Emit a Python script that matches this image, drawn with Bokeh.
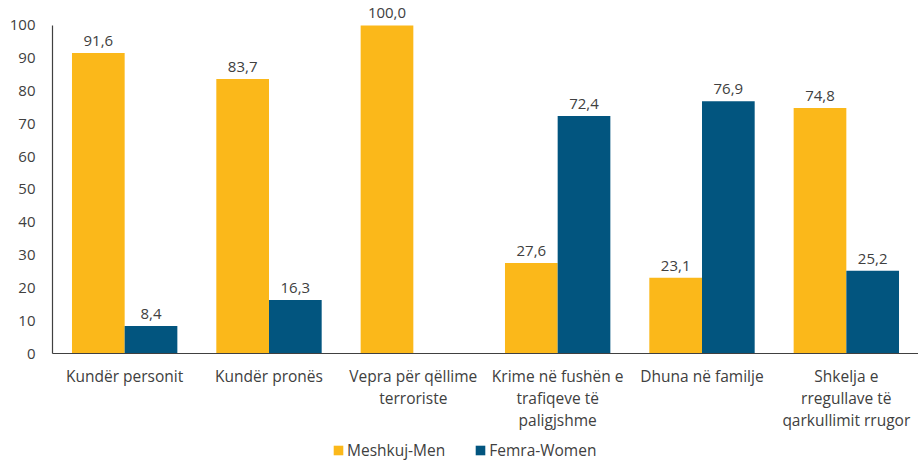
import numpy as np
from bokeh.plotting import figure
from bokeh.layouts import column
from bokeh.models import ColumnDataSource, Range1d, FixedTicker, Legend, LegendItem, LabelSet
from bokeh.core.properties import value
from bokeh.embed import file_html
from bokeh.resources import INLINE

categories = ["Kundër personit", "Kundër pronës", "Vepra për qëllime\nterroriste",
              "Krime në fushën e\ntrafiqeve të\npaligjshme", "Dhuna në familje",
              "Shkelja e\nrregullave të\nqarkullimit rrugor"]
men = [91.6, 83.7, 100.0, 27.6, 23.1, 74.8]
women = [8.4, 16.3, None, 72.4, 76.9, 25.2]
series_names = ["Meshkuj-Men", "Femra-Women"]
y_ticks = [0, 10, 20, 30, 40, 50, 60, 70, 80, 90, 100]

YELLOW = "#FBB81A"
BLUE = "#02557F"
TXT = "#404040"
FONT = "Open Sans"

xc = [i + 0.5 for i in range(len(categories))]
bw = 0.365

p = figure(width=918, height=440, output_backend="svg", toolbar_location=None,
           x_range=Range1d(0, 6), y_range=Range1d(0, 107.6),
           min_border_left=52, min_border_right=0, min_border_top=0, min_border_bottom=87)
p.outline_line_color = None
p.grid.grid_line_color = None

def fmt(v):
    return ("%.1f" % v).replace(".", ",")

src_m = ColumnDataSource(dict(x=[c - bw / 2 for c in xc], top=men, lab=[fmt(v) for v in men]))
wx = [c + bw / 2 for c, v in zip(xc, women) if v is not None]
wv = [v for v in women if v is not None]
src_w = ColumnDataSource(dict(x=wx, top=wv, lab=[fmt(v) for v in wv]))

r1 = p.vbar(x="x", top="top", width=bw, source=src_m, fill_color=YELLOW, line_color=None)
r2 = p.vbar(x="x", top="top", width=bw, source=src_w, fill_color=BLUE, line_color=None)

for s in (src_m, src_w):
    p.add_layout(LabelSet(x="x", y="top", text="lab", source=s, text_align="center",
                          text_baseline="bottom", y_offset=7, text_font=value(FONT),
                          text_font_size=value("15px"), text_color=TXT))

p.xaxis.ticker = FixedTicker(ticks=xc)
p.xaxis.major_label_overrides = {c: lab for c, lab in zip(xc, categories)}
p.yaxis.ticker = FixedTicker(ticks=y_ticks)
p.yaxis.bounds = (0, 100)
for ax in (p.xaxis, p.yaxis):
    ax.major_tick_line_color = None
    ax.minor_tick_line_color = None
    ax.axis_line_color = TXT
    ax.axis_line_width = 1.2
    ax.major_label_text_font = FONT
    ax.major_label_text_color = TXT
p.xaxis.major_label_text_font_size = "15.5px"
p.xaxis.major_label_text_line_height = 1.0
p.yaxis.major_label_text_font_size = "15px"
p.xaxis.major_label_standoff = 5
p.yaxis.major_label_standoff = 11

# legend strip (proxy renderers carry no visible data)
p2 = figure(width=918, height=21, output_backend="svg", toolbar_location=None,
            x_axis_location=None, y_axis_location=None,
            x_range=Range1d(0, 1), y_range=Range1d(0, 1),
            min_border_left=0, min_border_right=0, min_border_top=0, min_border_bottom=0)
p2.outline_line_color = None
p2.grid.grid_line_color = None
l1 = p2.vbar(x=[np.nan], top=[np.nan], width=0.1, fill_color=YELLOW, line_color=None)
l2 = p2.vbar(x=[np.nan], top=[np.nan], width=0.1, fill_color=BLUE, line_color=None)
legend = Legend(items=[LegendItem(label=series_names[0], renderers=[l1]),
                       LegendItem(label=series_names[1], renderers=[l2])],
                orientation="horizontal", location=(280, 0),
                label_text_font=FONT, label_text_font_size="15.5px", label_text_color=TXT,
                glyph_width=12, glyph_height=12, label_standoff=3, spacing=29,
                padding=0, margin=0, border_line_color=None, background_fill_alpha=0,
                label_height=16)
p2.add_layout(legend)

open("out.html", "w").write(file_html(column(p, p2, spacing=0), INLINE))
